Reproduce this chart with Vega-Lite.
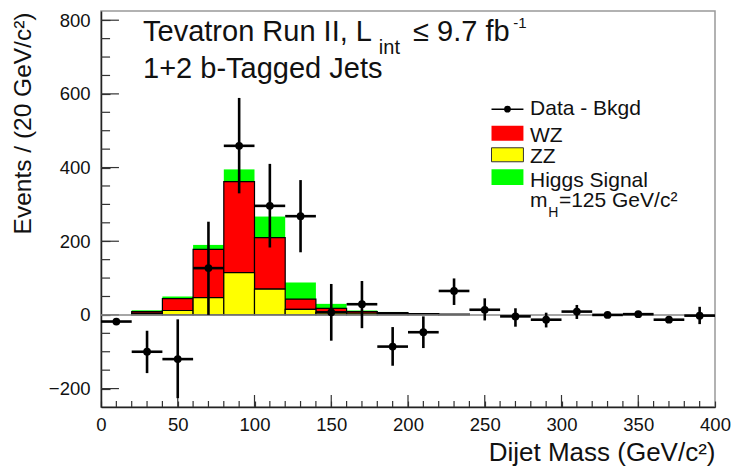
{
  "$schema": "https://vega.github.io/schema/vega-lite/v6.json",
  "width": 614,
  "height": 396,
  "autosize": "none",
  "padding": {"left": 101, "top": 11, "right": 23, "bottom": 59},
  "background": "white",
  "config": {
    "view": {"stroke": "#999999", "strokeWidth": 1.5},
    "font": "Liberation Sans",
    "axis": {
      "zindex": 1,
      "grid": false,
      "domainColor": "#222222",
      "domainWidth": 1.5,
      "labelFont": "Liberation Sans",
      "labelColor": "#111111",
      "labelFlush": false,
      "titleFont": "Liberation Sans",
      "titleFontWeight": "normal",
      "titleColor": "#111111"
    }
  },
  "datasets": {
    "hist": [
      {"lo": 20, "hi": 40, "process": "Higgs", "events": 3.5},
      {"lo": 40, "hi": 60, "process": "Higgs", "events": 6},
      {"lo": 60, "hi": 80, "process": "Higgs", "events": 12},
      {"lo": 80, "hi": 100, "process": "Higgs", "events": 33},
      {"lo": 100, "hi": 120, "process": "Higgs", "events": 57},
      {"lo": 120, "hi": 140, "process": "Higgs", "events": 45},
      {"lo": 140, "hi": 160, "process": "Higgs", "events": 12},
      {"lo": 160, "hi": 180, "process": "Higgs", "events": 3},
      {"lo": 180, "hi": 200, "process": "Higgs", "events": 2},
      {"lo": 200, "hi": 220, "process": "Higgs", "events": 1.5},
      {"lo": 220, "hi": 240, "process": "Higgs", "events": 0.5},
      {"lo": 20, "hi": 40, "process": "WZ", "events": 5},
      {"lo": 40, "hi": 60, "process": "WZ", "events": 32},
      {"lo": 60, "hi": 80, "process": "WZ", "events": 131},
      {"lo": 80, "hi": 100, "process": "WZ", "events": 247},
      {"lo": 100, "hi": 120, "process": "WZ", "events": 140},
      {"lo": 120, "hi": 140, "process": "WZ", "events": 28},
      {"lo": 140, "hi": 160, "process": "WZ", "events": 12},
      {"lo": 160, "hi": 180, "process": "WZ", "events": 4.5},
      {"lo": 180, "hi": 200, "process": "WZ", "events": 2.5},
      {"lo": 200, "hi": 220, "process": "WZ", "events": 1.5},
      {"lo": 220, "hi": 240, "process": "WZ", "events": 1},
      {"lo": 20, "hi": 40, "process": "ZZ", "events": 4},
      {"lo": 40, "hi": 60, "process": "ZZ", "events": 12},
      {"lo": 60, "hi": 80, "process": "ZZ", "events": 47},
      {"lo": 80, "hi": 100, "process": "ZZ", "events": 115},
      {"lo": 100, "hi": 120, "process": "ZZ", "events": 70},
      {"lo": 120, "hi": 140, "process": "ZZ", "events": 15},
      {"lo": 140, "hi": 160, "process": "ZZ", "events": 6},
      {"lo": 160, "hi": 180, "process": "ZZ", "events": 4.5},
      {"lo": 180, "hi": 200, "process": "ZZ", "events": 3.5},
      {"lo": 200, "hi": 220, "process": "ZZ", "events": 2},
      {"lo": 220, "hi": 240, "process": "ZZ", "events": 1}
    ],
    "pts": [
      {"lo": 0, "hi": 20, "m": 10, "y": -18, "ylo": -24, "yhi": -12},
      {"lo": 20, "hi": 40, "m": 30, "y": -100, "ylo": -158, "yhi": -43},
      {"lo": 40, "hi": 60, "m": 50, "y": -120, "ylo": -226, "yhi": -12},
      {"lo": 60, "hi": 80, "m": 70, "y": 127, "ylo": 0, "yhi": 253},
      {"lo": 80, "hi": 100, "m": 90, "y": 459, "ylo": 330, "yhi": 589},
      {"lo": 100, "hi": 120, "m": 110, "y": 296, "ylo": 183, "yhi": 410},
      {"lo": 120, "hi": 140, "m": 130, "y": 268, "ylo": 170, "yhi": 366},
      {"lo": 140, "hi": 160, "m": 150, "y": 7, "ylo": -70, "yhi": 84},
      {"lo": 160, "hi": 180, "m": 170, "y": 29, "ylo": -36, "yhi": 92},
      {"lo": 180, "hi": 200, "m": 190, "y": -86, "ylo": -138, "yhi": -33},
      {"lo": 200, "hi": 220, "m": 210, "y": -47, "ylo": -90, "yhi": -4},
      {"lo": 220, "hi": 240, "m": 230, "y": 65, "ylo": 27, "yhi": 99},
      {"lo": 240, "hi": 260, "m": 250, "y": 14, "ylo": -15, "yhi": 45},
      {"lo": 260, "hi": 280, "m": 270, "y": -4, "ylo": -32, "yhi": 18},
      {"lo": 280, "hi": 300, "m": 290, "y": -13, "ylo": -34, "yhi": 6},
      {"lo": 300, "hi": 320, "m": 310, "y": 9, "ylo": -11, "yhi": 27},
      {"lo": 320, "hi": 340, "m": 330, "y": 0, "ylo": -8, "yhi": 8},
      {"lo": 340, "hi": 360, "m": 350, "y": 2, "ylo": -5, "yhi": 9},
      {"lo": 360, "hi": 380, "m": 370, "y": -13, "ylo": -17, "yhi": -9},
      {"lo": 380, "hi": 400, "m": 390, "y": -2, "ylo": -25, "yhi": 22}
    ],
    "xmajor": [{"v": 50}, {"v": 100}, {"v": 150}, {"v": 200}, {"v": 250}, {"v": 300}, {"v": 350}],
    "xminor": [{"v": 10}, {"v": 20}, {"v": 30}, {"v": 40}, {"v": 60}, {"v": 70}, {"v": 80}, {"v": 90}, {"v": 110}, {"v": 120}, {"v": 130}, {"v": 140}, {"v": 160}, {"v": 170}, {"v": 180}, {"v": 190}, {"v": 210}, {"v": 220}, {"v": 230}, {"v": 240}, {"v": 260}, {"v": 270}, {"v": 280}, {"v": 290}, {"v": 310}, {"v": 320}, {"v": 330}, {"v": 340}, {"v": 360}, {"v": 370}, {"v": 380}, {"v": 390}],
    "ymajor": [{"v": -200}, {"v": 0}, {"v": 200}, {"v": 400}, {"v": 600}, {"v": 800}],
    "yminor": [{"v": -150}, {"v": -100}, {"v": -50}, {"v": 50}, {"v": 100}, {"v": 150}, {"v": 250}, {"v": 300}, {"v": 350}, {"v": 450}, {"v": 500}, {"v": 550}, {"v": 650}, {"v": 700}, {"v": 750}],
    "one": [{}]
  },
  "layer": [
    {
      "data": {"name": "hist"},
      "transform": [
        {"stack": "events", "groupby": ["lo"], "sort": [{"field": "process", "order": "descending"}], "as": ["y0", "y1"]}
      ],
      "mark": {"type": "rect", "strokeWidth": 1.2},
      "encoding": {
        "x": {"field": "lo", "type": "quantitative", "scale": {"domain": [0, 400], "nice": false, "zero": false},
          "axis": {
            "values": [0, 50, 100, 150, 200, 250, 300, 350, 400],
            "labelFontSize": 18.5,
            "labelOverlap": false,
            "labelSeparation": -1000,
            "ticks": true,
            "tickColor": "#333333",
            "tickWidth": 1.2,
            "tickSize": -6,
            "labelPadding": 14,
            "title": "Dijet Mass (GeV/c²)",
            "titleFontSize": 26,
            "titleAnchor": "end",
            "titleAlign": "right",
            "titleBaseline": "alphabetic",
            "titleX": 614,
            "titleY": 53
          }
        },
        "x2": {"field": "hi"},
        "y": {"field": "y0", "type": "quantitative", "scale": {"domain": [-250, 825], "nice": false, "zero": false},
          "axis": {
            "values": [-200, 0, 200, 400, 600, 800],
            "labelFontSize": 18.5,
            "labelOverlap": false,
            "labelSeparation": -1000,
            "ticks": true,
            "tickColor": "#333333",
            "tickWidth": 1.2,
            "tickSize": -9,
            "labelPadding": 20,
            "title": "Events / (20 GeV/c²)",
            "titleFontSize": 24.5,
            "titleAngle": 270,
            "titleAnchor": "end",
            "titleAlign": "right",
            "titleBaseline": "alphabetic",
            "titleX": -71,
            "titleY": 1
          }
        },
        "y2": {"field": "y1"},
        "color": {"field": "process", "type": "nominal",
          "scale": {"domain": ["Higgs", "WZ", "ZZ"], "range": ["#00ff00", "#ff0000", "#ffff00"]},
          "legend": null},
        "stroke": {"value": "#000000"},
        "strokeOpacity": {"condition": {"test": "datum.process === 'Higgs'", "value": 0}, "value": 1}
      }
    },
    {
      "data": {"name": "xmajor"},
      "mark": {"type": "rule", "color": "#333333", "strokeWidth": 1.2},
      "encoding": {"x": {"field": "v", "type": "quantitative"}, "y": {"datum": -250}, "y2": {"datum": -217.4}}
    },
    {
      "data": {"name": "xminor"},
      "mark": {"type": "rule", "color": "#333333", "strokeWidth": 1.2},
      "encoding": {"x": {"field": "v", "type": "quantitative"}, "y": {"datum": -250}, "y2": {"datum": -233.7}}
    },
    {
      "data": {"name": "ymajor"},
      "mark": {"type": "rule", "color": "#333333", "strokeWidth": 1.2},
      "encoding": {"y": {"field": "v", "type": "quantitative"}, "x": {"datum": 0}, "x2": {"datum": 11.7}}
    },
    {
      "data": {"name": "yminor"},
      "mark": {"type": "rule", "color": "#333333", "strokeWidth": 1.2},
      "encoding": {"y": {"field": "v", "type": "quantitative"}, "x": {"datum": 0}, "x2": {"datum": 5.9}}
    },
    {
      "data": {"name": "one"},
      "mark": {"type": "rule", "color": "#888888", "strokeWidth": 1.5},
      "encoding": {"x": {"datum": 0}, "x2": {"datum": 400}, "y": {"datum": 0}}
    },
    {
      "data": {"name": "pts"},
      "mark": {"type": "rule", "color": "#000000", "strokeWidth": 2.6},
      "encoding": {
        "x": {"field": "lo", "type": "quantitative"},
        "x2": {"field": "hi"},
        "y": {"field": "y", "type": "quantitative"}
      }
    },
    {
      "data": {"name": "pts"},
      "mark": {"type": "rule", "color": "#000000", "strokeWidth": 2.6},
      "encoding": {
        "x": {"field": "m", "type": "quantitative"},
        "y": {"field": "ylo", "type": "quantitative"},
        "y2": {"field": "yhi"}
      }
    },
    {
      "data": {"name": "pts"},
      "mark": {"type": "point", "filled": true, "color": "#000000", "opacity": 1, "size": 60},
      "encoding": {
        "x": {"field": "m", "type": "quantitative"},
        "y": {"field": "y", "type": "quantitative"}
      }
    },
    {
      "data": {"name": "one"},
      "mark": {"type": "text", "fontSize": 29, "align": "left", "baseline": "alphabetic", "color": "#111111", "text": "Tevatron Run II, L"},
      "encoding": {"x": {"datum": 27.4}, "y": {"datum": 744}}
    },
    {
      "data": {"name": "one"},
      "mark": {"type": "text", "fontSize": 20, "align": "left", "baseline": "alphabetic", "color": "#111111", "text": "int"},
      "encoding": {"x": {"datum": 181}, "y": {"datum": 708}}
    },
    {
      "data": {"name": "one"},
      "mark": {"type": "text", "fontSize": 29, "align": "left", "baseline": "alphabetic", "color": "#111111", "text": "≤ 9.7 fb"},
      "encoding": {"x": {"datum": 203.3}, "y": {"datum": 744}}
    },
    {
      "data": {"name": "one"},
      "mark": {"type": "text", "fontSize": 15, "align": "left", "baseline": "alphabetic", "color": "#111111", "text": "-1"},
      "encoding": {"x": {"datum": 268.5}, "y": {"datum": 778}}
    },
    {
      "data": {"name": "one"},
      "mark": {"type": "text", "fontSize": 29, "align": "left", "baseline": "alphabetic", "color": "#111111", "text": "1+2 b-Tagged Jets"},
      "encoding": {"x": {"datum": 27.4}, "y": {"datum": 643}}
    },
    {
      "data": {"name": "one"},
      "mark": {"type": "rule", "color": "#000000", "strokeWidth": 1.5},
      "encoding": {"x": {"datum": 254.4}, "x2": {"datum": 275.2}, "y": {"datum": 558.6}}
    },
    {
      "data": {"name": "one"},
      "mark": {"type": "point", "filled": true, "color": "#000000", "opacity": 1, "size": 45},
      "encoding": {"x": {"datum": 264.8}, "y": {"datum": 558.6}}
    },
    {
      "data": {"name": "one"},
      "mark": {"type": "rect", "color": "#ff0000"},
      "encoding": {"x": {"datum": 254.4}, "x2": {"datum": 275.2}, "y": {"datum": 513.4}, "y2": {"datum": 472.7}}
    },
    {
      "data": {"name": "one"},
      "mark": {"type": "rect", "color": "#ffff00", "stroke": "#333333", "strokeWidth": 1},
      "encoding": {"x": {"datum": 254.4}, "x2": {"datum": 275.2}, "y": {"datum": 453.7}, "y2": {"datum": 415.7}}
    },
    {
      "data": {"name": "one"},
      "mark": {"type": "rect", "color": "#00ff00"},
      "encoding": {"x": {"datum": 254.4}, "x2": {"datum": 275.2}, "y": {"datum": 395.1}, "y2": {"datum": 352.5}}
    },
    {
      "data": {"name": "one"},
      "mark": {"type": "text", "fontSize": 21, "align": "left", "baseline": "alphabetic", "color": "#111111", "text": "Data - Bkgd"},
      "encoding": {"x": {"datum": 279.5}, "y": {"datum": 542.4}}
    },
    {
      "data": {"name": "one"},
      "mark": {"type": "text", "fontSize": 21, "align": "left", "baseline": "alphabetic", "color": "#111111", "text": "WZ"},
      "encoding": {"x": {"datum": 279.5}, "y": {"datum": 470}}
    },
    {
      "data": {"name": "one"},
      "mark": {"type": "text", "fontSize": 21, "align": "left", "baseline": "alphabetic", "color": "#111111", "text": "ZZ"},
      "encoding": {"x": {"datum": 279.5}, "y": {"datum": 411.4}}
    },
    {
      "data": {"name": "one"},
      "mark": {"type": "text", "fontSize": 21, "align": "left", "baseline": "alphabetic", "color": "#111111", "text": "Higgs Signal"},
      "encoding": {"x": {"datum": 279.5}, "y": {"datum": 348}}
    },
    {
      "data": {"name": "one"},
      "mark": {"type": "text", "fontSize": 21, "align": "left", "baseline": "alphabetic", "color": "#111111", "text": "m"},
      "encoding": {"x": {"datum": 279.5}, "y": {"datum": 293.7}}
    },
    {
      "data": {"name": "one"},
      "mark": {"type": "text", "fontSize": 14, "align": "left", "baseline": "alphabetic", "color": "#111111", "text": "H"},
      "encoding": {"x": {"datum": 291.3}, "y": {"datum": 266}}
    },
    {
      "data": {"name": "one"},
      "mark": {"type": "text", "fontSize": 21, "align": "left", "baseline": "alphabetic", "color": "#111111", "text": "=125 GeV/c²"},
      "encoding": {"x": {"datum": 298.3}, "y": {"datum": 293.7}}
    }
  ]
}
